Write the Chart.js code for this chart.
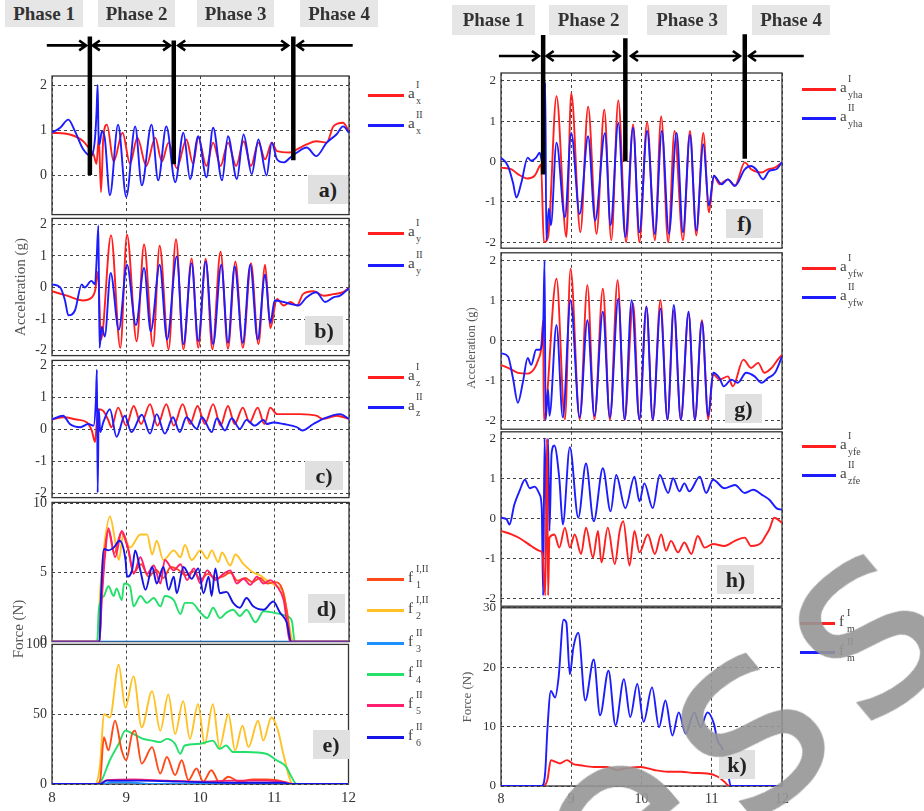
<!DOCTYPE html>
<html>
<head>
<meta charset="utf-8">
<script src="https://cdn.jsdelivr.net/npm/chart.js@4.4.0/dist/chart.umd.min.js"></script>
<style>
  body { margin:0; background:#fff; width:924px; height:811px; position:relative; overflow:hidden;
         font-family:'Liberation Serif','Times New Roman',serif; }
  canvas { position:absolute; }
  .phase { position:absolute; background:#e6e6e6; font-weight:bold; font-size:19px; color:#333; text-align:center; }
  .tag { position:absolute; background:#e0e0e0; font-weight:bold; font-size:22px; color:#222; text-align:center; }
  .ytitle { position:absolute; color:#555; white-space:nowrap; transform:translate(-50%,-50%) rotate(-90deg); }
  .lab { position:absolute; font-size:15px; line-height:18px; color:#444; }
  .lab .sup { position:absolute; left:8px; top:-8px; font-size:10px; white-space:nowrap; }
  .lab .sub { position:absolute; left:8px; top:8px; font-size:10px; white-space:nowrap; }
  .wm { position:absolute; font-family:'DejaVu Sans',sans-serif; font-size:260px; color:rgba(150,150,150,0.9);
        transform:translate(-50%,-50%) rotate(-40deg); white-space:nowrap; letter-spacing:18px; }
</style>
</head>
<body>
<script>
/* valores: tiempo (s) en x, aceleración (g) o fuerza (N) en y */

const RED = '#ff1f1f', BLUE = '#1c1cff';
const F_COL = ['#ff4a1a', '#ffc125', '#1e90ff', '#22e06a', '#ff1f6e', '#1414e6'];
const xTicks = [8, 9, 10, 11, 12];
const accTicks = [-2, -1, 0, 1, 2];
const forceTicksD = [0, 5, 10];
const forceTicksE = [0, 50, 100];
const forceTicksK = [0, 10, 20, 30];

/* --- a) --- */
const axI = [[8.00,0.94],[8.24,0.90],[8.42,0.75],[8.51,0.57],[8.56,0.46],[8.60,0.25],[8.63,0.85],[8.66,-0.38],[8.69,0.80],[8.74,1.12],[8.83,0.30],[8.95,0.94],[9.05,0.25],[9.15,0.83],[9.27,0.20],[9.39,0.83],[9.48,0.30],[9.57,0.72],[9.68,0.15],[9.81,0.79],[9.90,0.25],[9.97,0.83],[10.08,0.20],[10.17,0.72],[10.27,0.20],[10.37,0.72],[10.48,0.20],[10.58,0.75],[10.68,0.20],[10.78,0.72],[10.87,0.35],[10.96,0.72],[11.03,0.53],[11.20,0.50],[11.30,0.57],[11.43,0.68],[11.56,0.75],[11.70,0.72],[11.79,1.08],[11.92,1.16],[12.00,0.97]];
const axII = [[8.00,0.94],[8.11,1.05],[8.22,1.23],[8.31,0.97],[8.42,0.57],[8.53,0.42],[8.58,0.83],[8.60,1.40],[8.615,2.0],[8.625,1.0],[8.64,0.68],[8.67,0.97],[8.71,0.83],[8.78,-0.45],[8.89,1.12],[9.00,-0.49],[9.12,1.08],[9.21,-0.23],[9.34,1.12],[9.43,-0.12],[9.54,1.08],[9.66,-0.16],[9.77,0.94],[9.86,-0.09],[9.97,0.86],[10.08,-0.05],[10.17,1.05],[10.29,-0.12],[10.37,0.86],[10.49,-0.09],[10.58,0.90],[10.69,0.02],[10.78,0.79],[10.89,-0.01],[10.96,0.72],[11.03,0.35],[11.12,0.28],[11.21,0.39],[11.30,0.50],[11.43,0.61],[11.56,0.42],[11.70,0.72],[11.83,0.90],[11.92,1.08],[12.00,0.94]];

/* --- b) --- */
const ayI = [[8.00,-0.12],[8.20,-0.26],[8.42,-0.41],[8.51,-0.36],[8.58,-0.10],[8.62,0.50],[8.66,-1.65],[8.795,1.65],[8.92,-1.91],[9.01,1.67],[9.14,-1.70],[9.24,1.36],[9.36,-1.86],[9.45,1.32],[9.57,-1.96],[9.67,1.53],[9.77,-1.96],[9.88,0.92],[9.97,-1.91],[10.07,0.91],[10.16,-1.96],[10.27,1.13],[10.37,-1.94],[10.47,0.82],[10.57,-1.91],[10.68,0.77],[10.78,-1.80],[10.87,0.72],[10.94,-1.29],[11.03,-0.36],[11.12,-0.57],[11.21,-0.46],[11.30,-0.57],[11.38,-0.21],[11.52,-0.12],[11.66,-0.26],[11.79,-0.21],[11.92,-0.15],[12.00,-0.02]];
const ayII = [[8.00,0.10],[8.11,0.00],[8.175,-0.41],[8.22,-0.88],[8.31,-0.72],[8.40,0.10],[8.44,0.00],[8.53,0.21],[8.58,0.10],[8.60,0.82],[8.625,1.96],[8.64,-1.91],[8.67,-1.24],[8.71,-1.55],[8.79,0.46],[8.90,-1.34],[9.01,0.72],[9.13,-1.19],[9.24,0.62],[9.33,-1.39],[9.45,0.72],[9.55,-1.65],[9.68,0.98],[9.77,-1.80],[9.88,0.77],[9.97,-1.70],[10.07,0.82],[10.17,-1.80],[10.28,0.72],[10.37,-1.75],[10.46,0.67],[10.57,-1.75],[10.67,0.72],[10.77,-1.65],[10.87,0.41],[10.94,-1.13],[11.00,-0.41],[11.12,-0.46],[11.21,-0.52],[11.32,-0.57],[11.43,-0.31],[11.56,-0.15],[11.68,-0.46],[11.79,-0.31],[11.88,-0.26],[12.00,-0.02]];

/* --- c) --- */
const azI = [[8.00,0.31],[8.15,0.38],[8.33,0.31],[8.47,0.22],[8.535,-0.03],[8.58,-0.39],[8.60,0.12],[8.625,0.63],[8.69,0.58],[8.76,0.28],[8.80,0.07],[8.89,0.68],[9.00,0.12],[9.10,0.73],[9.20,0.17],[9.32,0.79],[9.42,0.12],[9.54,0.79],[9.64,0.12],[9.76,0.79],[9.86,0.17],[9.96,0.73],[10.06,0.17],[10.17,0.79],[10.27,0.12],[10.37,0.73],[10.46,0.17],[10.57,0.68],[10.66,0.22],[10.77,0.68],[10.86,0.17],[10.94,0.68],[11.03,0.48],[11.34,0.48],[11.56,0.43],[11.65,0.33],[11.83,0.43],[12.00,0.33]];
const azII = [[8.00,0.31],[8.15,0.43],[8.24,0.17],[8.38,0.07],[8.49,0.17],[8.56,0.12],[8.59,0.84],[8.605,1.86],[8.615,-1.97],[8.63,0.63],[8.65,-0.08],[8.69,0.22],[8.78,0.63],[8.87,-0.23],[8.98,0.43],[9.07,-0.08],[9.21,0.46],[9.32,-0.13],[9.41,0.48],[9.52,-0.13],[9.63,0.38],[9.72,-0.08],[9.81,0.38],[9.95,0.02],[10.02,0.38],[10.15,-0.08],[10.22,0.35],[10.33,-0.03],[10.42,0.35],[10.53,0.02],[10.62,0.30],[10.73,0.12],[10.85,0.30],[10.89,0.17],[10.98,0.22],[11.12,0.17],[11.30,0.07],[11.37,-0.03],[11.52,0.17],[11.65,0.33],[11.88,0.48],[12.00,0.33]];

/* --- d) fuerzas (N) --- */
const fd1 = [[8.00,0],[8.64,0],[8.67,3.5],[8.72,7.0],[8.76,8.0],[8.84,6.4],[8.93,7.9],[9.02,6.8],[9.10,5.0],[9.20,5.6],[9.30,4.7],[9.40,5.2],[9.50,4.6],[9.60,5.4],[9.70,5.2],[9.80,4.8],[9.90,5.1],[10.00,4.5],[10.10,4.9],[10.20,4.6],[10.30,4.7],[10.40,5.0],[10.50,4.4],[10.60,4.6],[10.70,4.3],[10.80,4.6],[10.90,4.2],[11.00,4.3],[11.10,3.8],[11.17,2.0],[11.22,0],[12.00,0]];
const fd2 = [[8.00,0],[8.61,0],[8.65,3.75],[8.70,6.8],[8.78,9.05],[8.85,7.3],[8.90,5.9],[8.96,7.75],[9.05,6.8],[9.19,7.75],[9.28,7.75],[9.35,6.3],[9.41,7.3],[9.50,5.9],[9.64,6.6],[9.73,6.1],[9.79,7.0],[9.88,5.9],[10.00,6.6],[10.09,6.0],[10.15,6.6],[10.24,5.75],[10.29,6.45],[10.40,5.5],[10.47,6.3],[10.58,5.6],[10.71,5.0],[10.80,4.8],[10.89,4.45],[11.03,4.0],[11.12,3.5],[11.18,1.6],[11.25,0],[12.00,0]];
const fd3 = [[8.00,0],[12.00,0]];
const fd4 = [[8.00,0],[8.61,0],[8.63,2.3],[8.70,3.3],[8.76,4.0],[8.83,3.3],[8.87,3.85],[8.94,3.0],[8.97,4.2],[9.05,4.0],[9.10,2.55],[9.19,3.3],[9.28,2.8],[9.37,3.15],[9.46,2.55],[9.52,3.3],[9.64,3.0],[9.73,2.0],[9.79,2.8],[9.88,2.8],[10.00,2.1],[10.09,1.7],[10.17,2.45],[10.26,1.7],[10.35,2.1],[10.44,2.3],[10.53,1.85],[10.62,2.3],[10.74,1.4],[10.85,2.2],[10.98,2.1],[11.07,2.0],[11.16,1.85],[11.23,1.5],[11.27,0],[12.00,0]];
const fd5 = [[8.00,0],[8.64,0],[8.67,3.0],[8.72,6.6],[8.76,8.2],[8.85,6.1],[8.94,8.0],[9.03,6.6],[9.10,4.9],[9.19,6.1],[9.28,4.9],[9.37,5.5],[9.46,4.2],[9.52,5.9],[9.64,5.15],[9.73,5.6],[9.82,4.45],[9.91,5.3],[10.00,4.2],[10.09,5.15],[10.20,4.45],[10.31,4.9],[10.40,5.15],[10.49,4.2],[10.58,4.55],[10.67,4.1],[10.76,4.7],[10.85,4.2],[10.94,4.45],[11.03,4.0],[11.12,3.0],[11.21,0],[12.00,0]];
const fd6 = [[8.00,0],[8.64,0],[8.66,3.3],[8.70,6.7],[8.76,6.6],[8.83,6.8],[8.91,7.3],[8.99,5.9],[9.01,4.7],[9.08,5.2],[9.12,6.6],[9.19,5.15],[9.26,3.75],[9.35,5.4],[9.41,4.2],[9.50,5.4],[9.57,3.75],[9.64,4.7],[9.68,3.5],[9.77,5.4],[9.88,4.55],[9.97,5.3],[10.04,3.5],[10.11,4.7],[10.15,3.3],[10.20,5.3],[10.26,3.5],[10.35,3.6],[10.44,2.8],[10.53,2.45],[10.62,3.15],[10.71,2.55],[10.85,2.3],[10.98,2.9],[11.07,2.1],[11.16,1.4],[11.22,0],[12.00,0]];

/* --- e) fuerzas (N) --- */
const fe1 = [[8.00,0],[8.61,0],[8.65,2.8],[8.70,33.5],[8.76,24.1],[8.85,45.3],[8.94,24.1],[9.00,17.0],[9.08,35.8],[9.12,38.2],[9.21,14.6],[9.35,26.4],[9.46,7.5],[9.55,19.3],[9.66,6.4],[9.75,17.0],[9.84,2.8],[9.95,11.1],[10.04,1.7],[10.15,9.9],[10.26,0.9],[10.38,5.2],[10.53,1.7],[10.71,3.3],[10.89,3.3],[11.03,2.8],[11.21,0.5],[11.25,0],[12.00,0]];
const fe2 = [[8.00,0],[8.58,0],[8.65,14.6],[8.70,50.0],[8.78,47.6],[8.90,85.4],[8.99,54.7],[9.10,77.1],[9.21,40.6],[9.35,66.5],[9.46,38.2],[9.57,64.2],[9.66,35.8],[9.77,59.4],[9.86,32.3],[9.97,57.1],[10.06,28.8],[10.17,57.1],[10.26,26.4],[10.38,50.0],[10.47,24.1],[10.57,41.7],[10.65,26.4],[10.78,45.3],[10.85,31.1],[10.96,47.6],[11.05,38.2],[11.12,21.7],[11.25,0],[12.00,0]];
const fe3 = [[8.00,0],[8.70,0],[8.80,1.2],[9.10,1.0],[9.30,0],[12.00,0]];
const fe4 = [[8.00,0],[8.61,0],[8.67,2.8],[8.78,17.0],[8.90,28.8],[8.99,38.2],[9.10,35.8],[9.23,32.3],[9.35,31.1],[9.46,30.0],[9.55,32.3],[9.66,28.8],[9.73,21.7],[9.79,27.6],[10.00,28.8],[10.17,31.1],[10.26,25.2],[10.35,27.6],[10.44,22.9],[10.62,22.9],[10.89,21.7],[11.03,17.0],[11.16,12.3],[11.23,5.2],[11.30,0],[12.00,0]];
const fe5 = [[8.00,0],[8.65,0],[8.70,1.7],[8.74,2.8],[9.10,3.3],[9.55,2.4],[10.00,1.7],[10.44,2.4],[10.89,2.4],[11.16,0.9],[11.21,0],[12.00,0]];
const fe6 = [[8.00,0],[8.65,0],[8.74,2.4],[9.19,2.4],[9.77,1.7],[10.44,0.9],[11.12,0.9],[11.21,0],[12.00,0]];

/* --- f) --- */
const ayhaI = [[8.00,-0.15],[8.15,-0.19],[8.24,-0.31],[8.38,-0.42],[8.48,-0.35],[8.55,-0.11],[8.57,-0.07],[8.61,-2.0],[8.67,-1.87],[8.79,1.62],[8.93,-1.87],[9.00,1.70],[9.13,-1.75],[9.24,1.36],[9.36,-1.79],[9.47,1.29],[9.57,-1.95],[9.67,1.52],[9.78,-2.0],[9.88,0.92],[9.97,-2.0],[10.08,0.98],[10.19,-1.95],[10.28,1.12],[10.38,-2.0],[10.47,0.76],[10.59,-1.95],[10.69,0.76],[10.78,-1.83],[10.88,0.71],[10.96,-1.26],[11.03,-0.35],[11.11,-0.56],[11.23,-0.44],[11.33,-0.60],[11.47,-0.02],[11.56,-0.19],[11.71,-0.27],[11.80,-0.19],[11.90,-0.15],[12.00,-0.02]];
const ayhaII = [[8.00,0.10],[8.10,-0.11],[8.17,-0.52],[8.22,-0.89],[8.29,-0.52],[8.38,0.10],[8.43,0.02],[8.50,0.10],[8.55,0.22],[8.60,-0.11],[8.63,1.95],[8.645,-1.95],[8.68,-1.17],[8.71,-1.58],[8.79,0.47],[8.91,-1.38],[9.00,0.71],[9.12,-1.30],[9.24,0.63],[9.34,-1.46],[9.48,0.71],[9.56,-1.58],[9.67,0.96],[9.77,-1.87],[9.88,0.84],[9.97,-1.75],[10.08,0.76],[10.19,-1.79],[10.29,0.76],[10.39,-1.79],[10.50,0.71],[10.59,-1.75],[10.69,0.67],[10.78,-1.71],[10.88,0.43],[10.96,-1.09],[11.03,-0.35],[11.14,-0.56],[11.23,-0.44],[11.33,-0.60],[11.47,-0.19],[11.56,-0.11],[11.63,-0.19],[11.73,-0.44],[11.82,-0.23],[11.92,-0.19],[12.00,-0.01]];

/* --- g) --- */
const ayfwI = [[8.00,-0.61],[8.15,-0.73],[8.24,-0.81],[8.38,-0.83],[8.48,-0.69],[8.53,-0.48],[8.57,-0.23],[8.60,0.50],[8.61,-1.99],[8.79,1.55],[8.91,-1.98],[8.99,1.80],[9.12,-1.98],[9.23,1.39],[9.33,-1.98],[9.45,1.30],[9.55,-1.99],[9.66,1.51],[9.76,-1.99],[9.88,0.93],[9.97,-1.99],[10.07,0.85],[10.16,-1.99],[10.27,1.01],[10.37,-1.99],[10.46,0.76],[10.56,-1.99],[10.67,0.68],[10.76,-1.99],[10.86,0.51],[10.95,-1.98],[11.02,-0.85],[11.11,-0.98],[11.23,-0.90],[11.30,-1.15],[11.45,-0.48],[11.56,-0.69],[11.66,-0.56],[11.75,-0.81],[11.85,-0.69],[11.94,-0.48],[12.00,-0.36]];
const ayfwII = [[8.00,-0.32],[8.10,-0.40],[8.17,-0.94],[8.24,-1.56],[8.31,-1.06],[8.38,-0.44],[8.43,-0.61],[8.50,-0.23],[8.55,-0.23],[8.60,0.31],[8.62,2.0],[8.635,-1.99],[8.67,-1.23],[8.69,-1.89],[8.79,0.39],[8.88,-1.93],[8.99,1.01],[9.12,-1.93],[9.23,0.51],[9.33,-1.89],[9.45,0.72],[9.55,-1.93],[9.67,1.05],[9.76,-1.98],[9.86,1.01],[9.97,-1.98],[10.07,0.85],[10.16,-1.98],[10.27,0.80],[10.37,-1.98],[10.46,0.89],[10.56,-1.98],[10.67,0.72],[10.76,-1.98],[10.86,0.47],[10.95,-1.89],[11.02,-0.81],[11.11,-0.94],[11.17,-1.15],[11.28,-0.98],[11.37,-1.06],[11.49,-0.81],[11.61,-0.90],[11.71,-1.06],[11.80,-0.94],[11.90,-0.81],[12.00,-0.40]];

/* --- h) --- */
const ayfeI = [[8.00,-0.31],[8.15,-0.40],[8.29,-0.52],[8.43,-0.69],[8.55,-0.81],[8.59,-0.88],[8.63,-1.93],[8.655,2.0],[8.67,-1.93],[8.69,-0.48],[8.76,-0.40],[8.83,-0.73],[8.91,-0.23],[8.98,-0.73],[9.05,-0.40],[9.14,-0.89],[9.21,-0.23],[9.31,-0.98],[9.38,-0.31],[9.43,-1.10],[9.52,-0.23],[9.62,-1.14],[9.69,-0.31],[9.74,-0.07],[9.83,-1.18],[9.90,-0.31],[9.97,-0.85],[10.09,-0.40],[10.19,-0.89],[10.28,-0.40],[10.35,-0.81],[10.42,-0.56],[10.52,-0.85],[10.61,-0.60],[10.71,-0.89],[10.80,-0.44],[10.90,-0.73],[11.02,-0.64],[11.18,-0.69],[11.33,-0.56],[11.47,-0.48],[11.56,-0.69],[11.71,-0.60],[11.75,-0.48],[11.82,-0.27],[11.89,0.02],[12.00,-0.11]];
const azfeII = [[8.00,0.02],[8.08,-0.02],[8.12,-0.15],[8.19,0.35],[8.27,0.72],[8.34,0.97],[8.41,0.76],[8.48,0.80],[8.55,0.60],[8.58,0.26],[8.60,-1.93],[8.62,2.0],[8.645,0.10],[8.67,2.0],[8.69,-0.31],[8.72,1.63],[8.76,1.83],[8.83,1.0],[8.88,-0.15],[8.98,1.79],[9.10,0.02],[9.21,1.38],[9.32,-0.07],[9.45,1.26],[9.56,0.18],[9.64,1.09],[9.77,0.26],[9.90,1.05],[9.97,0.43],[10.04,0.88],[10.16,0.26],[10.26,1.09],[10.38,0.64],[10.45,1.01],[10.54,0.68],[10.61,0.88],[10.68,0.68],[10.83,1.05],[10.92,0.64],[11.02,0.97],[11.18,0.76],[11.33,0.84],[11.47,0.64],[11.59,0.72],[11.71,0.60],[11.82,0.47],[11.92,0.26],[12.00,0.22]];

/* --- k) --- */
const fmI = [[8.00,0],[8.60,0],[8.66,1.0],[8.71,4.35],[8.77,4.1],[8.84,3.8],[8.94,4.35],[9.03,3.7],[9.13,3.5],[9.32,3.2],[9.51,3.2],[9.65,2.7],[9.80,3.0],[9.99,3.2],[10.18,2.7],[10.37,2.4],[10.56,2.4],[10.75,2.2],[10.94,2.1],[11.08,1.6],[11.18,0.7],[11.25,0],[12.00,0]];
const fmII = [[8.00,0],[8.58,0],[8.63,2.4],[8.66,9.4],[8.71,16.0],[8.77,14.9],[8.82,18.3],[8.89,28.0],[8.93,27.5],[8.98,18.8],[9.03,23.3],[9.10,25.8],[9.20,14.4],[9.32,21.3],[9.41,11.9],[9.53,19.4],[9.63,10.2],[9.75,18.0],[9.84,11.6],[9.94,17.2],[10.03,10.8],[10.15,16.6],[10.25,9.9],[10.34,14.4],[10.44,8.5],[10.53,12.4],[10.63,8.8],[10.75,12.4],[10.84,9.9],[10.94,12.4],[11.03,10.5],[11.08,7.7],[11.15,6.3],[11.22,3.2],[11.27,0],[12.00,0]];

/* --- fases: límites (s), extremos de las barras y flechas (en unidades del panel a / f) --- */
const leftBounds = [8.51, 9.64, 11.25];
const leftBoundTop = [3.08, 2.99, 3.08];
const leftBoundBottom = [0.0, 0.24, 0.33];
const leftArrows = [[7.93, 8.46, 0, 1], [8.55, 9.59, 1, 1], [9.70, 11.18, 1, 1], [11.30, 12.05, 1, 0]];
const leftArrowY = 2.88;
const rightBounds = [8.60, 9.77, 11.47];
const rightBoundTop = [3.14, 3.06, 3.16];
const rightBoundBottom = [-0.32, 0.0, 0.07];
const rightArrows = [[7.97, 8.54, 0, 1], [8.65, 9.69, 1, 1], [9.85, 11.40, 1, 1], [11.53, 12.31, 1, 0]];
const rightArrowY = 2.62;

const phaseNames = ['Phase 1', 'Phase 2', 'Phase 3', 'Phase 4'];

/* ---------- helpers ---------- */
const FONT = "'Liberation Serif','Times New Roman',serif";

const boxPlugin = {
  id: 'box',
  beforeDatasetsDraw(ch) {
    const a = ch.chartArea, ctx = ch.ctx;
    ctx.save();
    ctx.strokeStyle = '#333';
    ctx.lineWidth = 1.3;
    ctx.strokeRect(a.left, a.top, a.width, a.height);
    ctx.restore();
  }
};

function toXY(arr) { return arr.map(p => ({x: p[0], y: p[1]})); }

function series(arr, color, width) {
  return { data: toXY(arr), borderColor: color, borderWidth: width || 1.9, pointRadius: 0,
           cubicInterpolationMode: 'monotone', fill: false };
}

// barras verticales negras + flechas con puntas en chevron
function phaseSets(bounds, tops, bottoms, arrows, ay, pxX, pxY) {
  const bars = [];
  bounds.forEach((b, i) => {
    bars.push({x: b, y: tops[i]}, {x: b, y: bottoms[i]}, {x: b, y: null});
  });
  const dx = 7 / pxX, dy = 5 / pxY;
  const arr = [];
  arrows.forEach(a => {
    arr.push({x: a[0], y: ay}, {x: a[1], y: ay}, {x: a[1], y: null});
    if (a[2]) arr.push({x: a[0] + dx, y: ay + dy}, {x: a[0], y: ay}, {x: a[0] + dx, y: ay - dy}, {x: a[0], y: null});
    if (a[3]) arr.push({x: a[1] - dx, y: ay + dy}, {x: a[1], y: ay}, {x: a[1] - dx, y: ay - dy}, {x: a[1], y: null});
  });
  const common = { pointRadius: 0, tension: 0, cubicInterpolationMode: 'default', spanGaps: false, clip: false, borderColor: '#000' };
  return [
    Object.assign({ data: bars, borderWidth: 4.5, borderCapStyle: 'butt' }, common),
    Object.assign({ data: arr, borderWidth: 2.6, borderCapStyle: 'butt', borderJoinStyle: 'miter' }, common)
  ];
}

function panel(o) {
  const axisW = 40;
  const xH = o.xLabels ? 24 : 0;
  const padT = o.padT || 12, padB = o.padB == null ? 12 : o.padB, padR = o.padR || 12;
  const c = document.createElement('canvas');
  c.width = axisW + o.plotW + padR;
  c.height = padT + o.plotH + xH + padB;
  c.style.left = (o.plotL - axisW) + 'px';
  c.style.top = (o.plotT - padT) + 'px';
  document.body.appendChild(c);
  const fs = o.fs || 14;
  new Chart(c, {
    type: 'line',
    data: { datasets: o.datasets },
    options: {
      responsive: false, animation: false, devicePixelRatio: 1,
      layout: { padding: { top: padT, right: padR, bottom: padB, left: 0 } },
      plugins: { legend: { display: false }, tooltip: { enabled: false } },
      scales: {
        x: {
          type: 'linear', min: 8, max: 12,
          afterFit: s => { s.height = xH; },
          afterBuildTicks: s => { s.ticks = xTicks.map(v => ({value: v})); },
          grid: { color: '#444', lineWidth: 1, drawTicks: false },
          border: { display: false, dash: [3, 3] },
          ticks: { display: !!o.xLabels, padding: 5, maxRotation: 0, color: '#333', font: { family: FONT, size: fs + 1 } }
        },
        y: {
          type: 'linear', min: o.min, max: o.max,
          afterFit: s => { s.width = axisW; },
          afterBuildTicks: s => { s.ticks = o.yTicks.filter(v => v >= o.min - 1e-9 && v <= o.max + 1e-9).map(v => ({value: v})); },
          grid: { color: '#444', lineWidth: 1, drawTicks: false },
          border: { display: false, dash: [3, 3] },
          ticks: { padding: 5, color: '#333', font: { family: FONT, size: fs } }
        }
      }
    },
    plugins: [boxPlugin]
  });
}

function div(cls, x, y, w, h, html) {
  const d = document.createElement('div');
  d.className = cls;
  d.style.left = x + 'px'; d.style.top = y + 'px';
  if (w != null) d.style.width = w + 'px';
  if (h != null) { d.style.height = h + 'px'; d.style.lineHeight = h + 'px'; }
  d.innerHTML = html;
  document.body.appendChild(d);
  return d;
}

function legend(x0, x1, y, color, base, sup, sub) {
  const ln = document.createElement('div');
  ln.style.cssText = `position:absolute;left:${x0}px;top:${y - 1.5}px;width:${x1 - x0}px;height:3px;background:${color}`;
  document.body.appendChild(ln);
  div('lab', x1 + 4, y - 11, null, null, `${base}<span class="sup">${sup}</span><span class="sub">${sub}</span>`);
}

/* ---------- columna izquierda ---------- */
const L = { plotL: 52, plotW: 297 };
panel(Object.assign({}, L, { plotT: 76, plotH: 140, padT: 46, min: -0.88, max: 2.2, yTicks: accTicks,
  datasets: [...phaseSets(leftBounds, leftBoundTop, leftBoundBottom, leftArrows, leftArrowY, 297 / 4, 45.5),
             series(axII, BLUE), series(axI, RED)] }));
panel(Object.assign({}, L, { plotT: 217, plotH: 140, min: -2.155, max: 2.186, yTicks: accTicks,
  datasets: [series(ayII, BLUE), series(ayI, RED)] }));
panel(Object.assign({}, L, { plotT: 359, plotH: 140, min: -2.122, max: 2.153, yTicks: accTicks,
  datasets: [series(azII, BLUE), series(azI, RED)] }));
panel(Object.assign({}, L, { plotT: 501, plotH: 142, min: 0, max: 10.07, yTicks: forceTicksD,
  datasets: [series(fd6, F_COL[5]), series(fd5, F_COL[4]), series(fd1, F_COL[0]), series(fd4, F_COL[3]),
             series(fd2, F_COL[1]), series(fd3, F_COL[2])] }));
panel(Object.assign({}, L, { plotT: 643, plotH: 141, padB: 2, xLabels: true, min: 0, max: 100, yTicks: forceTicksE,
  datasets: [series(fe6, F_COL[5]), series(fe5, F_COL[4]), series(fe3, F_COL[2]), series(fe1, F_COL[0]),
             series(fe4, F_COL[3]), series(fe2, F_COL[1])] }));

/* ---------- columna derecha ---------- */
const R = { plotL: 501, plotW: 281, fs: 13, padR: 26 };
panel(Object.assign({}, R, { plotT: 73, plotH: 176, padT: 45, min: -2.148, max: 2.198, yTicks: accTicks,
  datasets: [...phaseSets(rightBounds, rightBoundTop, rightBoundBottom, rightArrows, rightArrowY, 281 / 4, 40.5),
             series(ayhaII, BLUE), series(ayhaI, RED)] }));
panel(Object.assign({}, R, { plotT: 252, plotH: 178, min: -2.224, max: 2.2, yTicks: accTicks,
  datasets: [series(ayfwII, BLUE), series(ayfwI, RED)] }));
panel(Object.assign({}, R, { plotT: 431, plotH: 176, min: -2.199, max: 2.174, yTicks: accTicks,
  datasets: [series(ayfeI, RED), series(azfeII, BLUE)] }));
panel(Object.assign({}, R, { plotT: 607, plotH: 179, padB: 2, xLabels: true, min: 0, max: 30, yTicks: forceTicksK,
  datasets: [series(fmII, BLUE), series(fmI, RED)] }));

/* ---------- rótulos de fase ---------- */
[[5, 78], [98, 77], [197, 77], [300, 78]].forEach((p, i) => div('phase', p[0], 0, p[1], 27, phaseNames[i]));
[[452, 83], [549, 79], [647, 80], [752, 78]].forEach((p, i) => div('phase', p[0], 5, p[1], 30, phaseNames[i]));

/* ---------- etiquetas de panel ---------- */
[['a)', 308, 175, 40], ['b)', 305, 316, 38], ['c)', 305, 461, 38], ['d)', 308, 594, 37], ['e)', 313, 730, 36],
 ['f)', 726, 209, 37], ['g)', 725, 394, 37], ['h)', 717, 565, 37], ['k)', 719, 750, 36]]
  .forEach(t => div('tag', t[1], t[2], t[3], 29, t[0]));

/* ---------- títulos de eje ---------- */
div('ytitle', 20, 287, null, null, 'Acceleration (g)').style.fontSize = '15px';
div('ytitle', 18, 629, null, null, 'Force (N)').style.fontSize = '15px';
div('ytitle', 471, 348, null, null, 'Acceleration (g)').style.fontSize = '12.5px';
div('ytitle', 467, 697, null, null, 'Force (N)').style.fontSize = '13px';

/* ---------- leyendas ---------- */
legend(368, 404, 95, RED, 'a', 'I', 'x');
legend(368, 404, 125, BLUE, 'a', 'II', 'x');
legend(368, 404, 233, RED, 'a', 'I', 'y');
legend(368, 404, 265, BLUE, 'a', 'II', 'y');
legend(368, 404, 377, RED, 'a', 'I', 'z');
legend(368, 404, 407, BLUE, 'a', 'II', 'z');
const fLegY = [579, 610, 643, 674, 705, 737];
const fLegSup = ['I,II', 'I,II', 'II', 'II', 'II', 'II'];
fLegY.forEach((y, i) => legend(367, 404, y, F_COL[i], 'f', fLegSup[i], String(i + 1)));
legend(802, 836, 89, RED, 'a', 'I', 'yha');
legend(802, 836, 118, BLUE, 'a', 'II', 'yha');
legend(802, 836, 268, RED, 'a', 'I', 'yfw');
legend(802, 836, 297, BLUE, 'a', 'II', 'yfw');
legend(802, 836, 446, RED, 'a', 'I', 'yfe');
legend(802, 836, 475, BLUE, 'a', 'II', 'zfe');
legend(800, 835, 623, RED, 'f', 'I', 'm');
legend(800, 835, 652, BLUE, 'f', 'II', 'm');

/* marca de agua */
div('wm', 738, 722, null, null, 'ess');
</script>
</body>
</html>
